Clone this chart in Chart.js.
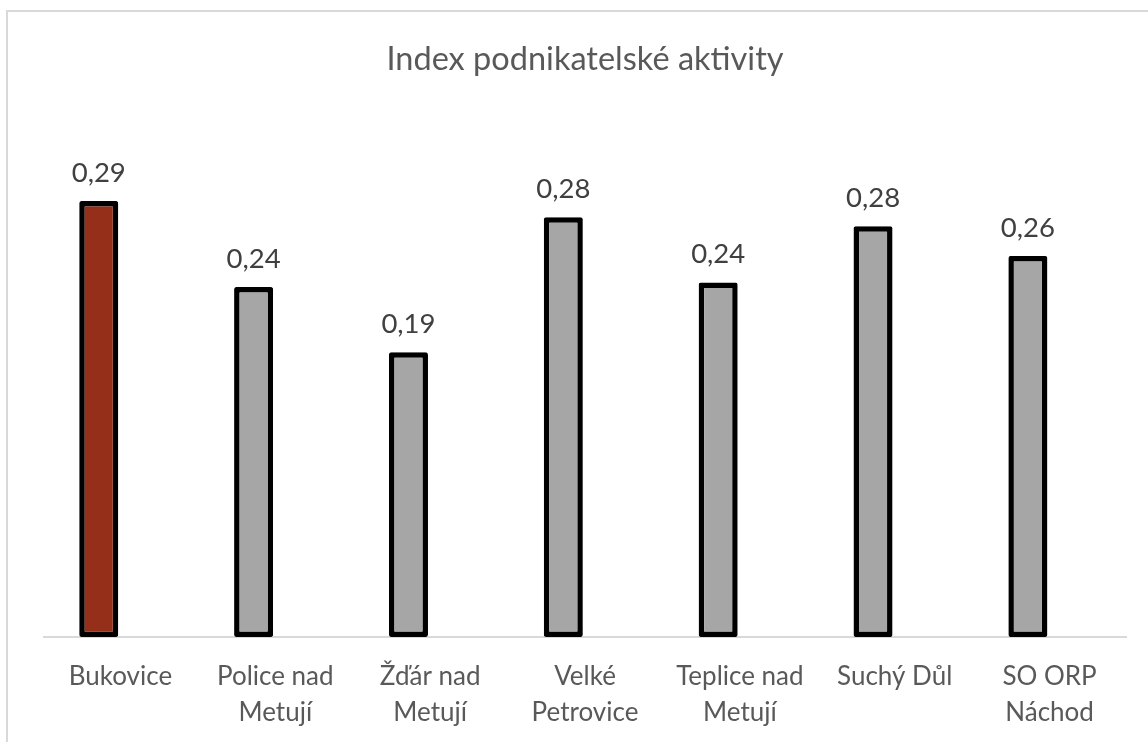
<!DOCTYPE html>
<html lang="cs">
<head>
<meta charset="utf-8">
<title>Index podnikatelské aktivity</title>
<script src="https://cdn.jsdelivr.net/npm/chart.js@4.4.1/dist/chart.umd.min.js"></script>
<style>
    html, body { margin: 0; padding: 0; background: #ffffff; overflow: hidden; }
    #frame {
        position: absolute; left: 6px; top: 10px;
        width: 1170px; height: 760px;
        border: 2px solid #d9d9d9; box-sizing: border-box;
    }
    #wrap { position: absolute; left: 0; top: 0; width: 1148px; height: 742px; }
</style>
</head>
<body>
<div id="frame"></div>
<div id="wrap"><canvas id="aktivitaChart"></canvas></div>
<script>
    const chartTitle = 'Index podnikatelské aktivity';
    const obce = [
        'Bukovice',
        ['Police nad', 'Metují'],
        ['Žďár nad', 'Metují'],
        ['Velké', 'Petrovice'],
        ['Teplice nad', 'Metují'],
        'Suchý Důl',
        ['SO ORP', 'Náchod']
    ];
    const indexHodnoty = [0.294, 0.236, 0.192, 0.283, 0.239, 0.277, 0.257];
    const barvyBaru = ['#952f1a', '#a6a6a6', '#a6a6a6', '#a6a6a6', '#a6a6a6', '#a6a6a6', '#a6a6a6'];
    const prazdnaRada = [null, null, null, null, null, null, null];

    const fontFamily = 'Lato, "Open Sans", sans-serif';

    // osa x (jen v šířce plochy grafu) a popisky hodnot nad sloupci
    const valueLabels = {
        id: 'valueLabels',
        beforeDatasetsDraw(chart) {
            const ctx = chart.ctx;
            const area = chart.chartArea;
            const y0 = chart.scales.y.getPixelForValue(0);
            ctx.save();
            ctx.strokeStyle = '#d9d9d9';
            ctx.lineWidth = 2;
            ctx.beginPath();
            ctx.moveTo(area.left, y0);
            ctx.lineTo(area.right, y0);
            ctx.stroke();
            ctx.restore();
        },
        afterDatasetsDraw(chart) {
            const ctx = chart.ctx;
            const meta = chart.getDatasetMeta(0);
            ctx.save();
            ctx.font = `27.5px ${fontFamily}`;
            ctx.fillStyle = '#404040';
            ctx.textAlign = 'center';
            ctx.textBaseline = 'middle';
            meta.data.forEach((bar, i) => {
                const text = indexHodnoty[i].toFixed(2).replace('.', ',');
                ctx.fillText(text, bar.x, bar.y - 28);
            });
            ctx.restore();
        }
    };

    new Chart(document.getElementById('aktivitaChart'), {
        type: 'bar',
        data: {
            labels: obce,
            datasets: [
                {
                    label: 'Index',
                    data: indexHodnoty,
                    backgroundColor: barvyBaru,
                    borderColor: '#000000',
                    borderWidth: 5.5,
                    borderRadius: 2,
                    borderSkipped: false,
                    categoryPercentage: 0.56,
                    barPercentage: 0.9
                },
                {
                    label: '',
                    data: prazdnaRada,
                    categoryPercentage: 0.56,
                    barPercentage: 0.9
                }
            ]
        },
        options: {
            responsive: true,
            maintainAspectRatio: false,
            animation: false,
            layout: { padding: { left: 43, right: 21, top: 0, bottom: 0 } },
            plugins: {
                legend: { display: false },
                tooltip: { enabled: false },
                title: {
                    display: true,
                    text: chartTitle,
                    color: '#595959',
                    font: { family: fontFamily, size: 32.5, weight: 'normal', lineHeight: 1.2 },
                    padding: { top: 40.5, bottom: 38.5 }
                }
            },
            scales: {
                x: {
                    grid: { display: false, drawTicks: false },
                    border: { display: false },
                    ticks: {
                        color: '#595959',
                        font: { family: fontFamily, size: 26, lineHeight: 1.4 },
                        padding: 21,
                        maxRotation: 0,
                        autoSkip: false
                    },
                    afterFit(scale) { scale.height = 105; }
                },
                y: {
                    display: false,
                    min: 0,
                    max: 0.35
                }
            }
        },
        plugins: [valueLabels]
    });
</script>
</body>
</html>
